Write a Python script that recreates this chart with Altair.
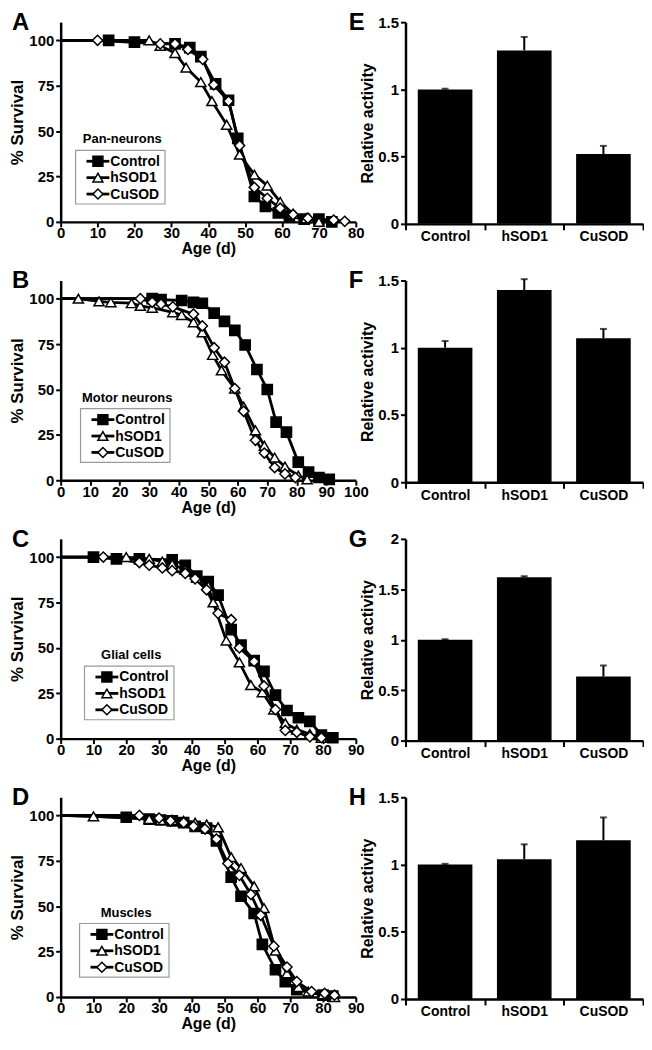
import altair as alt
import pandas as pd

FONT = "Liberation Sans"
SERIES = ["Control", "hSOD1", "CuSOD"]
CATS = ["Control", "hSOD1", "CuSOD"]
TISSUES = ["Pan-neurons", "Motor neurons", "Glial cells", "Muscles"]

# ---- survival data (day, % survival) ----
A_ctrl_day = [0, 13, 20, 31, 35, 38, 42, 45.5, 48, 52.5, 55.5, 59, 62, 66, 70, 73.5]
A_ctrl_surv = [100, 100, 99, 98, 96, 91, 76, 67, 46, 14, 8.5, 5, 3, 1.5, 1.5, 0]
A_hsod_day = [0, 24, 27, 31, 34, 38, 41, 45, 48.5, 52.5, 56, 59.5, 63, 66.5, 70]
A_hsod_surv = [100, 100, 97, 93, 85, 77, 66.5, 53.5, 37, 26, 20, 11, 4.5, 2, 0]
A_cusod_day = [0, 10, 27, 31, 34.5, 38.5, 41.5, 45.5, 48.5, 52.5, 56, 59.5, 63, 67, 74, 77]
A_cusod_surv = [100, 100, 98, 98, 95, 89.5, 75.5, 66.5, 42, 19, 13, 7.5, 4, 2, 1, 0.3]

B_ctrl_day = [0, 31, 34, 41, 45, 48, 52, 55.5, 59, 62.5, 66.5, 70, 73, 76.5, 80.5, 84, 87.5, 91]
B_ctrl_surv = [100, 100, 99.5, 99, 98, 97.5, 92, 87.5, 82.5, 74.5, 61, 50, 32, 26.5, 10, 4.5, 1.5, 0.5]
B_hsod_day = [0, 6, 13, 17, 24, 27, 31, 38, 41, 45, 48, 51.5, 54.5, 59, 62, 66, 69, 72.5, 76, 80.5, 83.5]
B_hsod_surv = [100, 100, 98.5, 98, 97.5, 96, 95, 92.5, 91, 87, 81.5, 69, 60.5, 50.5, 40.5, 27.5, 19, 12.5, 7.5, 2.5, 0.5]
B_cusod_day = [0, 27, 31, 34, 38, 45, 48, 52, 55.5, 59, 62, 66, 69, 72.5, 76, 79.5]
B_cusod_surv = [100, 100, 98, 97, 95.5, 91.5, 85, 73, 65, 50.5, 38, 22, 15, 7, 3.5, 1.5]

C_ctrl_day = [0, 10, 17, 24, 34, 38, 41.5, 45, 48, 52, 55, 59, 62, 65.5, 69, 72.5, 76, 79.5, 83]
C_ctrl_surv = [100, 100, 99, 99, 98.5, 95.5, 89.5, 86.5, 79, 60, 51.5, 43, 37, 24, 15.5, 11.5, 9.5, 2, 0.5]
C_hsod_day = [0, 20, 27, 31, 34, 38, 41.5, 45, 46.5, 50.5, 54.5, 58, 61.5, 65, 68.5, 72, 76, 79.5]
C_hsod_surv = [100, 100, 99, 97.5, 96, 93, 88.5, 84, 75, 54, 42, 29.5, 25.5, 16, 8.5, 5, 2.5, 0.5]
C_cusod_day = [0, 13, 24, 27, 31, 34, 38, 41, 44.5, 48, 52, 54.5, 59, 62, 65.5, 68.5, 72, 76, 79.5]
C_cusod_surv = [100, 100, 97, 95.5, 94, 92.5, 91, 88, 82, 69, 65.5, 50, 42.5, 29, 16, 4.5, 3.5, 1, 0.5]

D_ctrl_day = [0, 20, 27, 30.5, 34, 37.5, 41, 44.5, 47.5, 52, 55, 59, 61.5, 65.5, 68.5, 72, 80, 83]
D_ctrl_surv = [100, 99, 98, 97.5, 97, 96, 94, 93, 86, 66, 55.5, 46, 29, 15, 8.5, 4, 1, 0.5]
D_hsod_day = [0, 10, 27, 30.5, 34, 37.5, 41, 44.5, 48, 52, 55, 59, 62, 65.5, 69, 72.5, 75.5, 80, 83.5]
D_hsod_surv = [100, 99.5, 98, 97.5, 97.5, 97, 96, 95, 93.5, 77, 71, 61, 49, 25.5, 13, 5.5, 3, 1.5, 0]
D_cusod_day = [0, 24, 30, 33.5, 37.5, 40.5, 44, 47.5, 51, 54.5, 58, 61, 65, 69, 72, 76.5, 80.5, 83.5]
D_cusod_surv = [100, 100, 98.5, 97, 96, 94, 92.5, 87, 73.5, 67, 56.5, 45, 28, 16.5, 8.5, 3, 2, 1]

# ---- relative activity (mean, error) ----
E_mean = [1.0, 1.29, 0.52]
E_err = [0.005, 0.10, 0.06]
F_mean = [1.0, 1.43, 1.07]
F_err = [0.05, 0.08, 0.07]
G_mean = [1.0, 1.62, 0.635]
G_err = [0.005, 0.01, 0.11]
H_mean = [1.0, 1.04, 1.18]
H_err = [0.005, 0.11, 0.17]

MARKERS = ["square", "triangle-up", "diamond"]
FILLS = ["black", "white", "white"]


def survival_frame(days_list, surv_list):
    rows = []
    for name, days, surv in zip(SERIES, days_list, surv_list):
        for d, s in zip(days, surv):
            rows.append({"day": d, "surv": s, "series": name})
    return pd.DataFrame(rows)


def legend_layers(tissue, lx, ly):
    one = pd.DataFrame({"t": [tissue]})
    layers = [
        alt.Chart(one).mark_rect(fill="white", stroke="#9a9a9a", strokeWidth=1.2).encode(
            x=alt.value(lx), x2=alt.value(lx + 90), y=alt.value(ly), y2=alt.value(ly + 54)),
        alt.Chart(one).mark_text(font=FONT, fontWeight="bold", fontSize=13, align="center",
                                 baseline="middle", color="black").encode(
            x=alt.value(lx + 47), y=alt.value(ly - 11), text="t:N"),
    ]
    for i, (name, shape, fill) in enumerate(zip(SERIES, MARKERS, FILLS)):
        yc = ly + 11 + 16.5 * i
        row = pd.DataFrame({"series": [name]})
        layers.append(alt.Chart(row).mark_rule(color="black", strokeWidth=2.8).encode(
            x=alt.value(lx + 11), x2=alt.value(lx + 34), y=alt.value(yc)))
        layers.append(alt.Chart(row).mark_point(
            shape=shape, filled=True, fill=fill, stroke="black", strokeWidth=1.5,
            size=100, opacity=1).encode(x=alt.value(lx + 22.5), y=alt.value(yc)))
        layers.append(alt.Chart(row).mark_text(
            font=FONT, fontWeight="bold", fontSize=14, align="left", baseline="middle",
            color="black").encode(x=alt.value(lx + 35), y=alt.value(yc + 0.5), text="series:N"))
    return layers


def survival_chart(df, xmax, letter, tissue, lx, ly):
    x = alt.X("day:Q", scale=alt.Scale(domain=[0, xmax], nice=False),
              axis=alt.Axis(values=list(range(0, xmax + 1, 10)), title="Age (d)",
                            labelFlush=False, labelOverlap=False, titleFontSize=16,
                            titlePadding=0, labelPadding=-1))
    y = alt.Y("surv:Q", scale=alt.Scale(domain=[0, 110], nice=False),
              axis=alt.Axis(values=[0, 25, 50, 75, 100], title="% Survival",
                            labelFlush=False, titleFontSize=17, titlePadding=2))
    base = alt.Chart(df)
    lines = base.mark_line(color="black", strokeWidth=2.8).encode(
        x=x, y=y, detail="series:N", order="day:Q")
    pts = base.transform_filter("datum.day > 0").mark_point(
        filled=True, opacity=1, stroke="black", strokeWidth=1.5, size=105
    ).encode(
        x=x, y=y,
        shape=alt.Shape("series:N", scale=alt.Scale(domain=SERIES, range=MARKERS), legend=None),
        fill=alt.Fill("series:N", scale=alt.Scale(domain=SERIES, range=FILLS), legend=None),
    )
    letter_t = alt.Chart(pd.DataFrame({"t": [letter]})).mark_text(
        font=FONT, fontWeight="bold", fontSize=24, align="left", baseline="alphabetic",
        color="black"
    ).encode(x=alt.value(-49), y=alt.value(8), text="t:N")
    return alt.layer(lines, pts, *legend_layers(tissue, lx, ly), letter_t).properties(
        width=297, height=201)


def bar_chart(means, errs, ymax, letter):
    df = pd.DataFrame({"cat": CATS, "mean": means,
                       "top": [m + e for m, e in zip(means, errs)]})
    x = alt.X("cat:N", sort=CATS, scale=alt.Scale(paddingInner=0, paddingOuter=0),
              axis=alt.Axis(title=None, labelAngle=0, tickBand="extent", labelFontSize=14,
                            tickSize=6, labelPadding=0))
    yax = alt.Axis(values=[v / 2 for v in range(0, int(ymax * 2) + 1)], format="~g",
                   title="Relative activity", titleFontSize=16, titlePadding=2,
                   labelFlush=False)
    ysc = alt.Scale(domain=[0, ymax], nice=False)
    base = alt.Chart(df)
    bars = base.mark_bar(color="black", width=alt.RelativeBandSize(0.69)).encode(
        x=x, y=alt.Y("mean:Q", scale=ysc, axis=yax))
    err = base.mark_rule(color="black", strokeWidth=2).encode(
        x=x, y=alt.Y("mean:Q", scale=ysc, axis=yax), y2="top:Q")
    cap = base.mark_tick(color="black", thickness=2, size=7).encode(
        x=x, y=alt.Y("top:Q", scale=ysc, axis=yax))
    letter_t = alt.Chart(pd.DataFrame({"t": [letter]})).mark_text(
        font=FONT, fontWeight="bold", fontSize=24, align="left", baseline="alphabetic",
        color="black"
    ).encode(x=alt.value(-57), y=alt.value(8), text="t:N")
    return alt.layer(bars, err, cap, letter_t).properties(width=239, height=203)


dfA = survival_frame([A_ctrl_day, A_hsod_day, A_cusod_day], [A_ctrl_surv, A_hsod_surv, A_cusod_surv])
dfB = survival_frame([B_ctrl_day, B_hsod_day, B_cusod_day], [B_ctrl_surv, B_hsod_surv, B_cusod_surv])
dfC = survival_frame([C_ctrl_day, C_hsod_day, C_cusod_day], [C_ctrl_surv, C_hsod_surv, C_cusod_surv])
dfD = survival_frame([D_ctrl_day, D_hsod_day, D_cusod_day], [D_ctrl_surv, D_hsod_surv, D_cusod_surv])

chart = alt.concat(
    survival_chart(dfA, 80, "A", TISSUES[0], 15, 129),
    bar_chart(E_mean, E_err, 1.5, "E"),
    survival_chart(dfB, 100, "B", TISSUES[1], 20, 129),
    bar_chart(F_mean, F_err, 1.5, "F"),
    survival_chart(dfC, 90, "C", TISSUES[2], 24, 128),
    bar_chart(G_mean, G_err, 2.0, "G"),
    survival_chart(dfD, 90, "D", TISSUES[3], 19, 127),
    bar_chart(H_mean, H_err, 1.5, "H"),
    columns=2,
    spacing=alt.RowColnumber(row=57, column=50),
    bounds="flush",
).properties(
    padding=0
).configure_axis(
    domainColor="black", domainWidth=2.5, tickColor="black", tickWidth=2, tickSize=5,
    labelFont=FONT, labelFontWeight="bold", labelFontSize=15, labelColor="black",
    titleFont=FONT, titleFontWeight="bold", titleColor="black", grid=False,
).configure_view(stroke=None)

chart.save("out.html", embed_options={"renderer": "svg", "actions": False})
